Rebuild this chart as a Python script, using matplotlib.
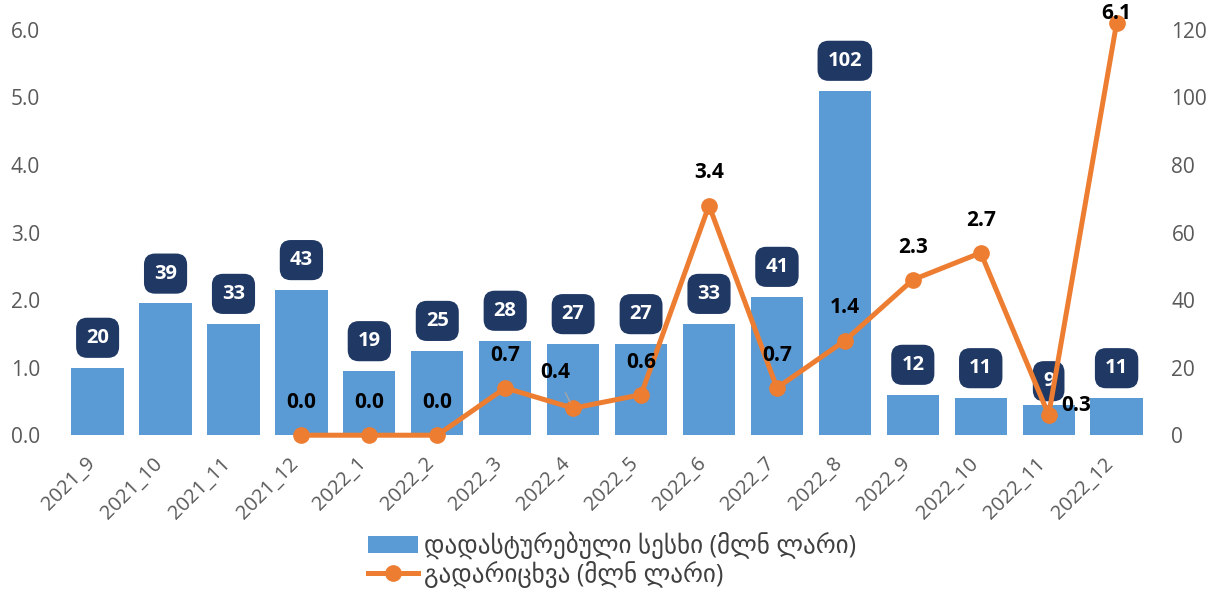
import matplotlib.pyplot as plt
from matplotlib.transforms import ScaledTranslation

# plot colors
bar_blue = "#5B9BD5"
line_orange = "#ED7D31"
navy = "#1F3864"
tick_gray = "#595959"

months = ["2021_9", "2021_10", "2021_11", "2021_12", "2022_1", "2022_2", "2022_3", "2022_4",
          "2022_5", "2022_6", "2022_7", "2022_8", "2022_9", "2022_10", "2022_11", "2022_12"]
approved_loans = [20, 39, 33, 43, 19, 25, 28, 27, 27, 33, 41, 102, 12, 11, 9, 11]
transfer_months = months[3:]
transfers = [0.0, 0.0, 0.0, 0.7, 0.4, 0.6, 3.4, 0.7, 1.4, 2.3, 2.7, 0.3, 6.1]

bar_label = "დადასტურებული სესხი (მლნ ლარი)"
line_label = "გადარიცხვა (მლნ ლარი)"

plt.rcParams["font.family"] = ["Open Sans", "DejaVu Sans"]

fig = plt.figure(figsize=(12.24, 5.97), dpi=100)
ax = fig.add_axes([0.052, 0.271, 0.888, 0.679])
ax2 = ax.twinx()

# bars live on the right-hand scale, the line on the left-hand one
ax.yaxis.tick_right()
ax2.yaxis.tick_left()

x = list(range(len(months)))
bars = ax.bar(x, approved_loans, width=0.77, color=bar_blue, label=bar_label, zorder=2)
ax.set_ylim(0, 120)
ax.set_yticks(range(0, 121, 20))
ax.set_xlim(-0.5, len(months) - 0.5)
ax.set_xticks(x)
ax.set_xticklabels(months, rotation=45, ha="right", rotation_mode="anchor")

for xi, v in zip(x, approved_loans):
    off = 17 if v < 10 else 21.5
    ax.annotate(str(v), (xi, v), xytext=(0, off), textcoords="offset points",
                ha="center", va="center", color="white", fontsize=14.5, fontweight="bold",
                bbox=dict(boxstyle="round,pad=0.5,rounding_size=0.55", fc=navy, ec="none"),
                zorder=3)

tx = [months.index(m) for m in transfer_months]
line, = ax2.plot(tx, transfers, color=line_orange, linewidth=3.6, marker="o",
                 markersize=11, label=line_label, zorder=5, clip_on=False)
ax2.set_ylim(0, 6)
ax2.set_yticks([0, 1, 2, 3, 4, 5, 6])
ax2.set_yticklabels([f"{t:.1f}" for t in range(7)])
ax2.set_xlim(-0.5, len(months) - 0.5)

offsets = {7: (-13, 26), 14: (19.5, 6.5), 15: (0, 7)}
for xi, v in zip(tx, transfers):
    dx, dy = offsets.get(xi, (0, 23.5))
    arrow = None
    if xi == 7:
        arrow = dict(arrowstyle="-", color="#A6A6A6", lw=1, shrinkA=6, shrinkB=5)
    ax2.annotate(f"{v:.1f}", (xi, v), xytext=(dx, dy), textcoords="offset points",
                 ha="center", va="center", fontsize=15, fontweight="bold", color="black",
                 arrowprops=arrow, zorder=6, annotation_clip=False)

for a in (ax, ax2):
    for s in a.spines.values():
        s.set_visible(False)
    a.tick_params(length=0, labelsize=15, labelcolor=tick_gray)
ax2.tick_params(axis="y", pad=17)
ax.tick_params(axis="y", pad=15)
ax.tick_params(axis="x", labelsize=14.5, pad=6)
shift = ScaledTranslation(-0.13, -0.10, fig.dpi_scale_trans)
for lbl in ax.get_xticklabels():
    lbl.set_transform(lbl.get_transform() + shift)

fig.legend(handles=[bars, line], labels=[bar_label, line_label], loc="lower center",
           bbox_to_anchor=(0.5, -0.014), ncol=1, frameon=False, fontsize=18,
           labelcolor="#404040", handlelength=2.0, handletextpad=0.25, labelspacing=0.05,
           borderaxespad=0.3)

fig.savefig("out.png", dpi=100)
